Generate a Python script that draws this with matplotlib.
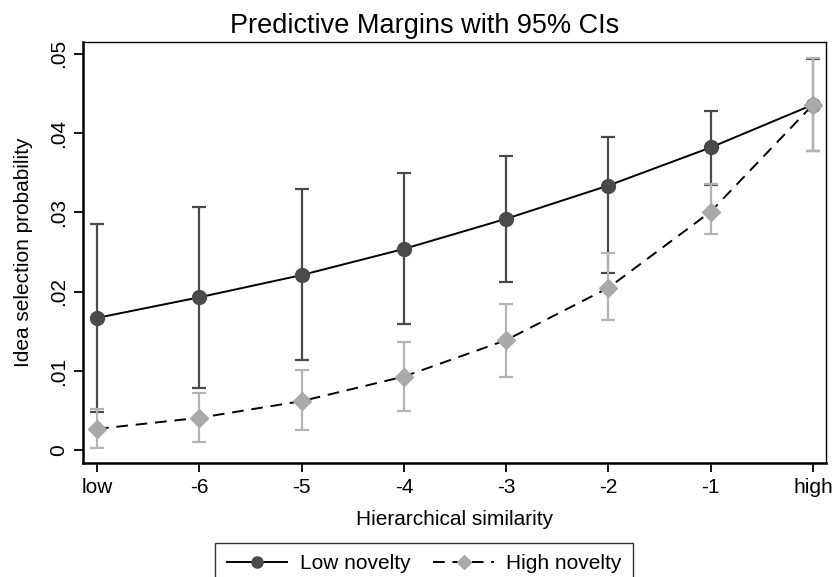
import matplotlib.pyplot as plt

plt.rcParams['font.family'] = ['Liberation Sans', 'DejaVu Sans']

labels = ["low", "-6", "-5", "-4", "-3", "-2", "-1", "high"]

# Low novelty margins and 95% CIs
low_m  = [0.0167, 0.0193, 0.0221, 0.0254, 0.0292, 0.0334, 0.0382, 0.0436]
low_lo = [0.0048, 0.0078, 0.0114, 0.0159, 0.0212, 0.0224, 0.0335, 0.0378]
low_hi = [0.0286, 0.0307, 0.0329, 0.0350, 0.0371, 0.0395, 0.0428, 0.0494]

# High novelty margins and 95% CIs
high_m  = [0.0027, 0.0041, 0.0062, 0.0093, 0.0139, 0.0205, 0.0301, 0.0436]
high_lo = [0.0003, 0.0010, 0.0025, 0.0050, 0.0093, 0.0164, 0.0273, 0.0377]
high_hi = [0.0052, 0.0072, 0.0101, 0.0137, 0.0185, 0.0249, 0.0336, 0.0495]

x = list(range(len(labels)))

fig = plt.figure(figsize=(8.32, 5.77), dpi=100)
ax = fig.add_axes([0.0998, 0.1976, 0.893, 0.7296])

dark = "#4a4a4a"
light = "#a9a9a9"

ax.errorbar(x, low_m,
            yerr=[[m - l for m, l in zip(low_m, low_lo)], [h - m for m, h in zip(low_m, low_hi)]],
            fmt="none", ecolor=dark, elinewidth=1.6, capsize=5, capthick=1.6, zorder=2)
ax.errorbar(x, high_m,
            yerr=[[m - l for m, l in zip(high_m, high_lo)], [h - m for m, h in zip(high_m, high_hi)]],
            fmt="none", ecolor="#b3b3b3", elinewidth=1.6, capsize=5, capthick=1.6, zorder=3)

ax.plot(x, low_m, color="black", lw=1.4, marker="o", ms=10,
        mfc=dark, mec=dark, label="Low novelty", zorder=4)
ax.plot(x, high_m, color="black", lw=1.4, ls=(0, (6, 4)), marker="D", ms=9,
        mfc=light, mec=light, label="High novelty", zorder=5)

ax.set_xlim(-0.137, 7.127)
ax.set_ylim(-0.0016, 0.0515)
ax.set_xticks(x)
ax.set_xticklabels(labels)
ax.set_yticks([0, 0.01, 0.02, 0.03, 0.04, 0.05])
ax.set_yticklabels(["0", ".01", ".02", ".03", ".04", ".05"], rotation=90, va="center")
ax.tick_params(axis="both", labelsize=15, length=6.5, width=1.3, direction="out", pad=4)

for s in ax.spines.values():
    s.set_linewidth(1.0)
ax.spines["left"].set_linewidth(1.8)
ax.spines["bottom"].set_linewidth(1.8)

fig.text(0.51, 0.955, "Predictive Margins with 95% CIs", fontsize=19.5,
         ha="center", va="center")
ax.set_xlabel("Hierarchical similarity", fontsize=15, labelpad=10)
ax.set_ylabel("Idea selection probability", fontsize=15, labelpad=12)

leg = fig.legend(loc="upper center", bbox_to_anchor=(0.51, 0.0589), ncol=2,
                 fontsize=15, handlelength=2.9, frameon=True, fancybox=False,
                 edgecolor="black", borderpad=0.55, borderaxespad=0,
                 columnspacing=1.1, handletextpad=0.6, numpoints=1,
                 markerscale=0.8)
leg.get_frame().set_linewidth(1.0)

plt.savefig("out.png", dpi=100)
